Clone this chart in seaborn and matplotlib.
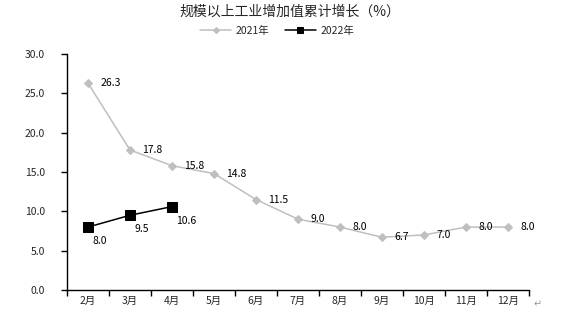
import matplotlib
matplotlib.use("Agg")
import matplotlib.pyplot as plt
import seaborn as sns
import pandas as pd
from matplotlib.ticker import FixedLocator

months = ["2月", "3月", "4月", "5月", "6月", "7月", "8月", "9月", "10月", "11月", "12月"]
v2021 = [26.3, 17.8, 15.8, 14.8, 11.5, 9.0, 8.0, 6.7, 7.0, 8.0, 8.0]
months2022 = ["2月", "3月", "4月"]
v2022 = [8.0, 9.5, 10.6]
yticks = [0, 5, 10, 15, 20, 25, 30]

sns.set_theme(style="white")
plt.rcParams['font.family'] = ['Noto Sans CJK SC', 'DejaVu Sans']

fig = plt.figure(figsize=(5.66, 3.24), dpi=100)
ax = fig.add_axes([67/566, 1-290/324, (529-67)/566, (290-54)/324])

df1 = pd.DataFrame({"month": months, "val": v2021})
df2 = pd.DataFrame({"month": months2022, "val": v2022})
df1["x"] = range(len(months))
df2["x"] = [months.index(m) for m in months2022]

sns.lineplot(data=df1, x="x", y="val", ax=ax, color="#BFBFBF", lw=1.1,
             marker="D", markersize=4.5, markeredgecolor="#BFBFBF", label="2021年")
sns.lineplot(data=df2, x="x", y="val", ax=ax, color="black", lw=1.1,
             marker="s", markersize=6.5, markeredgecolor="black", label="2022年")

for x, v in zip(df1["x"], v2021):
    ax.annotate(f"{v:.1f}", (x, v), xytext=(9, 0), textcoords="offset points",
                ha="left", va="center", fontsize=7.5, color="black")
for x, v in zip(df2["x"], v2022):
    ax.annotate(f"{v:.1f}", (x, v), xytext=(3, -10), textcoords="offset points",
                ha="left", va="center", fontsize=7.5, color="black")

ax.set_xlim(-0.5, len(months) - 0.5)
ax.set_ylim(0, 30)
ax.set_yticks(yticks)
ax.set_yticklabels([f"{t:.1f}" for t in yticks], fontsize=7.5)
ax.set_xticks(range(len(months)))
ax.set_xticklabels(months, fontsize=7.5)
ax.xaxis.set_minor_locator(FixedLocator([i - 0.5 for i in range(len(months) + 1)]))
ax.tick_params(axis="x", which="major", length=0, pad=4)
ax.tick_params(axis="x", which="minor", length=4, width=1, color="black", direction="out", bottom=True)
ax.tick_params(axis="y", which="major", length=4, width=1, color="black", direction="out", left=True, pad=12)
ax.set_xlabel("")
ax.set_ylabel("")
for s in ["top", "right"]:
    ax.spines[s].set_visible(False)
for s in ["left", "bottom"]:
    ax.spines[s].set_color("black")
    ax.spines[s].set_linewidth(1)

leg = ax.legend(loc="center", bbox_to_anchor=(277/566, 1-31/324), bbox_transform=fig.transFigure,
                ncol=2, frameon=False, fontsize=7.5, handlelength=3.0, columnspacing=1.5,
                handletextpad=0.4, markerscale=0.7)

fig.text(290/566, 1-12/324, "规模以上工业增加值累计增长（%）", ha="center", va="center", fontsize=10)
fig.text(538/566, 1-304/324, "↵", ha="center", va="center", fontsize=7, color="#999999",
         family=["DejaVu Sans"])

fig.savefig("out.png", dpi=100)
